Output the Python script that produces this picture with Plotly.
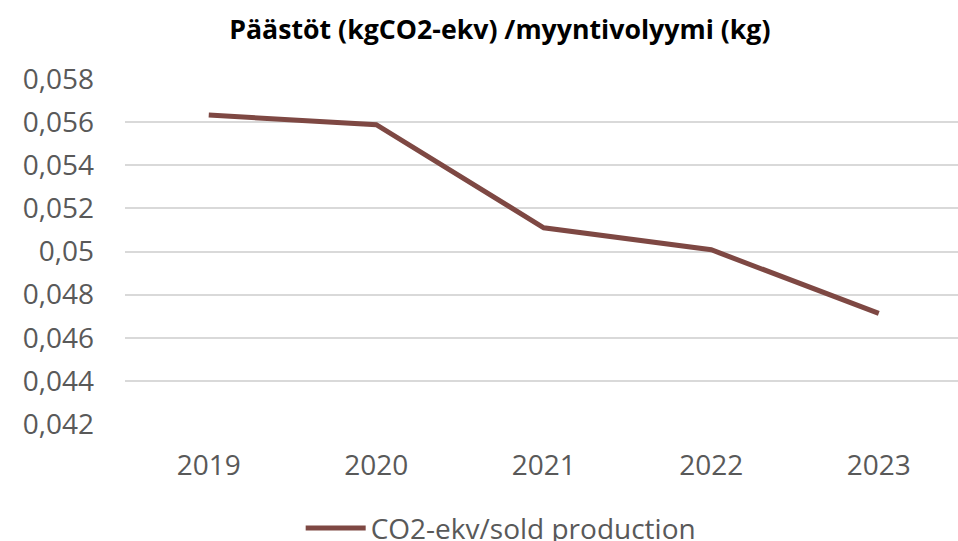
import plotly.graph_objects as go

VUODET = ["2019", "2020", "2021", "2022", "2023"]
PAASTOT = [0.05633, 0.05588, 0.05110, 0.05008, 0.04713]
Y_TICKS = [0.042, 0.044, 0.046, 0.048, 0.05, 0.052, 0.054, 0.056, 0.058]
Y_LABELS = ["0,042", "0,044", "0,046", "0,048", "0,05", "0,052", "0,054", "0,056", "0,058"]

RUSKEA = "#7E4843"
HARMAA = "#595959"
GRID = "#D9D9D9"
FONTTI = "Open Sans"

fig = go.Figure(go.Scatter(
    x=VUODET, y=PAASTOT,
    mode="lines", name="CO2-ekv/sold production",
    line=dict(color=RUSKEA, width=5),
))
fig.update_layout(
    title=dict(
        text="<b>Päästöt (kgCO2-ekv) /myyntivolyymi (kg)</b>",
        x=0.45, xref="paper", xanchor="center", y=0.945, yanchor="middle",
        font=dict(family=FONTTI, size=26.7, color="black"),
    ),
    width=958, height=541,
    paper_bgcolor="white", plot_bgcolor="white",
    font=dict(family=FONTTI, color=HARMAA, size=28),
    margin=dict(t=79, b=117, l=125, r=0, autoexpand=False),
    xaxis=dict(
        type="category", range=[-0.5, 4.473],
        showgrid=False, showline=False, ticks="", ticklabelstandoff=22,
        tickfont=dict(size=28, color=HARMAA),
    ),
    yaxis=dict(
        range=[0.042, 0.058], tickvals=Y_TICKS, ticktext=Y_LABELS,
        showgrid=True, gridcolor=GRID, gridwidth=1.5,
        zeroline=False, showline=False, ticks="", ticklabelstandoff=30,
        tickfont=dict(size=28, color=HARMAA),
    ),
    showlegend=True,
    legend=dict(
        orientation="h", x=0.451, xanchor="center",
        y=-0.302, yanchor="middle", itemwidth=60,
        font=dict(size=28, color=HARMAA),
    ),
)

# ei body-marginaalia, jotta kuva täyttää ikkunan ilman vierityspalkkeja
fig.write_html(
    "out.html",
    config={"displayModeBar": False},
    post_script="document.body.style.margin = '0';",
)
